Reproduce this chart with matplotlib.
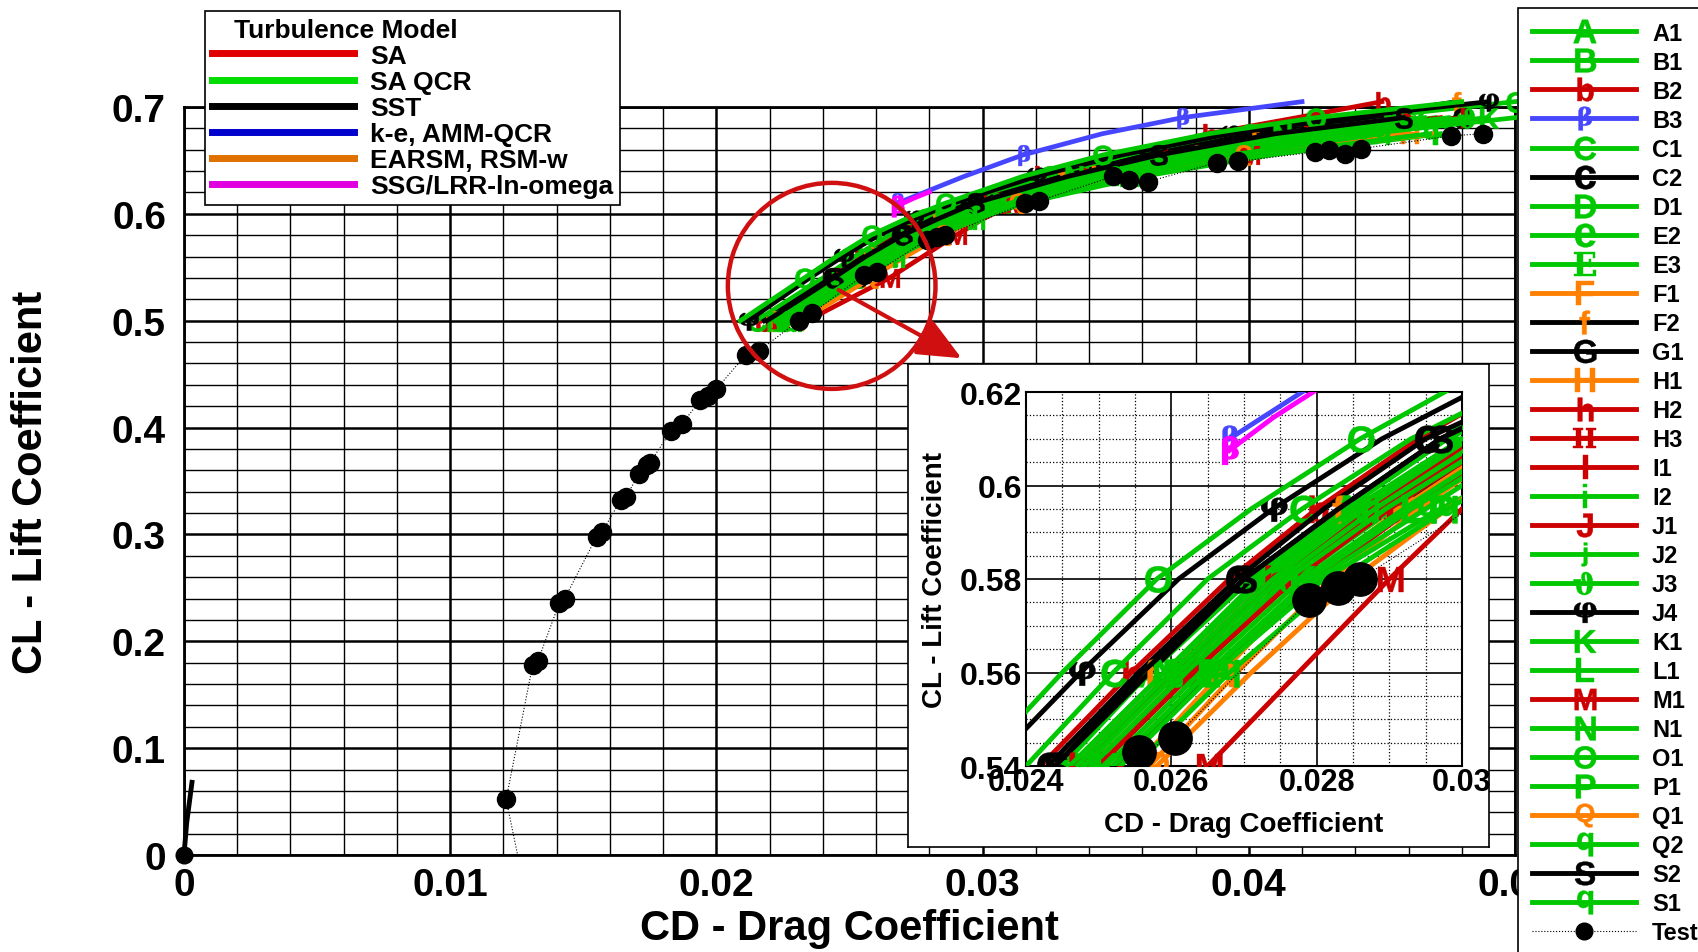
import numpy as np
import matplotlib
matplotlib.use("Agg")
import matplotlib.pyplot as plt
from matplotlib.lines import Line2D
from matplotlib.path import Path
from matplotlib.patches import Ellipse
from matplotlib.textpath import TextPath
from matplotlib.font_manager import FontProperties

plt.rcParams['font.family'] = ['Liberation Sans', 'DejaVu Sans']
plt.rcParams['font.weight'] = 'bold'
plt.rcParams['axes.labelweight'] = 'bold'

nan = np.nan

# CL stations shared by every CFD polar, CD at each one
cl_levels = [0.50, 0.54, 0.56, 0.58, 0.595, 0.61, 0.635, 0.655, 0.675, 0.69, 0.705]

run_names = ['A1', 'B1', 'B2', 'B3', 'C1', 'C2', 'D1', 'E2', 'E3', 'F1', 'F2',
             'G1', 'H1', 'H2', 'H3', 'I1', 'I2', 'J1', 'J2', 'J3', 'J4', 'K1',
             'L1', 'M1', 'N1', 'O1', 'P1', 'Q1', 'Q2', 'S2', 'S1']
run_symbols = ['A', 'B', 'b', 'β', 'C', 'c', 'D', 'e', 'E', 'F', 'f',
               'G', 'H', 'h', 'H', 'I', 'i', 'J', 'j', 'ϑ', 'φ', 'K',
               'L', 'M', 'N', 'O', 'P', 'Q', 'q', 'S', 'q']
serif_symbols = ['E3', 'H3', 'B3', 'J3', 'J4']
G, R, B, O, K = '#00c800', '#cc0000', '#4646ff', '#ff8000', '#000000'
run_colors = [G, G, R, B, G, K, G, G, G, O, K,
              K, O, R, R, R, G, R, G, G, K, G,
              G, R, G, G, G, O, G, K, G]
symbol_colors = [G, G, R, B, G, K, G, G, G, O, O,
                 K, O, R, R, R, G, R, G, G, K, G,
                 G, R, G, G, G, O, G, K, G]

run_cd = [
    [0.0221, 0.0245, 0.0257, 0.0271, 0.0284, 0.0298, 0.0332, 0.0366, 0.0410, 0.0455, nan],   # A1
    [0.0222, 0.0246, 0.0259, 0.0273, 0.02855, 0.0300, 0.0335, 0.0370, 0.0415, 0.0462, nan],  # B1
    [0.0217, 0.0242, 0.02545, 0.0268, 0.0280, 0.0294, 0.0322, 0.0350, 0.0385, 0.0418, 0.0450],  # B2
    [nan, nan, nan, nan, nan, 0.0268, 0.0293, 0.0315, 0.0345, 0.0375, 0.0420],  # B3
    [0.0215, 0.0240, 0.0252, 0.0265, 0.0278, 0.0293, 0.0325, 0.0357, 0.0400, 0.0445, 0.0500],  # C1
    [0.0218, 0.0243, 0.02555, 0.0269, 0.0281, 0.0295, 0.0330, 0.0362, 0.0405, 0.0450, nan],  # C2
    [0.0224, 0.0248, 0.02605, 0.0274, 0.0287, 0.0302, 0.0338, 0.0375, 0.0422, 0.0470, nan],  # D1
    [0.0225, 0.0249, 0.0262, 0.0276, 0.0289, 0.0304, 0.0340, 0.0378, 0.0428, 0.0480, nan],  # E2
    [0.0226, 0.0250, 0.0263, 0.0277, 0.02905, 0.0306, 0.0343, 0.0382, 0.0435, 0.0490, nan],  # E3
    [0.0230, 0.0257, 0.0269, 0.0282, 0.0294, 0.0308, 0.0350, 0.0392, 0.0460, nan, nan],  # F1
    [0.0220, 0.0244, 0.0257, 0.0270, 0.0283, 0.0297, 0.0330, 0.0362, 0.0402, 0.0440, 0.0478],  # F2
    [0.0228, 0.0252, 0.02655, 0.0280, 0.02915, 0.0305, 0.0342, 0.0380, 0.0432, 0.0480, nan],  # G1
    [0.0229, 0.0255, 0.0267, 0.0279, 0.02915, 0.0306, 0.0344, 0.0380, 0.0460, nan, nan],  # H1
    [0.0223, 0.0247, 0.0260, 0.0274, 0.0287, 0.0302, 0.0336, 0.0370, 0.0414, 0.0458, nan],  # H2
    [0.0224, 0.0249, 0.0262, 0.0276, 0.0289, 0.0304, 0.0340, 0.0376, 0.0424, 0.0472, nan],  # H3
    [0.0225, 0.0250, 0.0263, 0.0277, 0.0290, 0.0305, 0.0342, 0.0380, 0.0430, 0.0480, nan],  # I1
    [0.0223, 0.0247, 0.0260, 0.0274, 0.02865, 0.0301, 0.0337, 0.0372, 0.0418, 0.0466, nan],  # I2
    [0.0226, 0.0252, 0.0265, 0.0280, 0.0293, 0.0308, 0.0348, 0.0395, 0.0440, nan, nan],  # J1
    [0.0224, 0.0248, 0.0261, 0.0275, 0.0288, 0.0303, 0.0339, 0.0376, 0.0425, 0.0475, nan],  # J2
    [0.0225, 0.0249, 0.0262, 0.0276, 0.02895, 0.0305, 0.0341, 0.0380, 0.0430, 0.0482, nan],  # J3
    [0.0212, 0.0235, 0.02475, 0.0261, 0.0274, 0.0289, 0.0320, 0.0352, 0.0393, 0.0435, 0.0490],  # J4
    [0.0226, 0.0251, 0.0264, 0.0278, 0.0292, 0.0307, 0.0345, 0.0385, 0.0438, 0.0490, nan],  # K1
    [0.0227, 0.0252, 0.0265, 0.0279, 0.0293, 0.0309, 0.0348, 0.0390, 0.0445, 0.0500, nan],  # L1
    [0.0234, 0.0265, 0.02775, 0.0290, 0.0300, 0.0312, 0.0355, 0.0400, 0.0470, nan, nan],  # M1
    [0.0222, 0.0246, 0.0259, 0.0272, 0.0285, 0.0300, 0.0334, 0.0368, 0.0412, 0.0458, nan],  # N1
    [0.0209, 0.0233, 0.0245, 0.0258, 0.0271, 0.0286, 0.0315, 0.0345, 0.0385, 0.0425, 0.0480],  # O1
    [0.0228, 0.0253, 0.0266, 0.0281, 0.0297, 0.0316, 0.0360, 0.0408, 0.0472, nan, nan],  # P1
    [0.0232, 0.0258, 0.0271, 0.0285, 0.0298, 0.0313, 0.0356, 0.0398, 0.0470, nan, nan],  # Q1
    [0.0229, 0.0255, 0.0268, 0.0283, 0.0298, 0.0315, 0.0358, 0.0404, 0.0468, nan, nan],  # Q2
    [0.0219, 0.0244, 0.0256, 0.0270, 0.0283, 0.0297, 0.0332, 0.0366, 0.0410, 0.0458, nan],  # S2
    [0.0227, 0.0252, 0.0265, 0.0280, 0.0295, 0.0310, 0.0350, 0.0393, 0.0450, nan, nan],  # S1
]

# SSG/LRR-ln-omega run (only visible in the zoom)
ssg_cd = [0.0268, 0.0274, 0.0280]
ssg_cl = [0.6075, 0.6145, 0.6205]

# wind tunnel test
test_cd = [0.0127, 0.0121, 0.0131, 0.0133, 0.0141, 0.0143, 0.0155, 0.0157, 0.0164, 0.0166,
           0.0171, 0.0174, 0.0175, 0.0183, 0.0187, 0.0194, 0.0197, 0.0200, 0.0211, 0.0216,
           0.0231, 0.0236, 0.02555, 0.02605, 0.0279, 0.0283, 0.0286, 0.0316, 0.0321, 0.0349,
           0.0355, 0.0362, 0.0388, 0.0396, 0.0425, 0.0430, 0.0436, 0.0442, 0.0476, 0.0488]
test_cl = [-0.02, 0.052, 0.178, 0.182, 0.236, 0.240, 0.298, 0.302, 0.332, 0.335,
           0.357, 0.365, 0.367, 0.397, 0.403, 0.426, 0.430, 0.436, 0.468, 0.472,
           0.500, 0.507, 0.543, 0.546, 0.5755, 0.578, 0.580, 0.610, 0.612, 0.635,
           0.632, 0.630, 0.648, 0.649, 0.658, 0.660, 0.656, 0.661, 0.673, 0.675]

zero_cd = [0.0, 0.0001, 0.0003]
zero_cl = [0.0, 0.030, 0.068]

model_names = ['SA', 'SA QCR', 'SST', 'k-e, AMM-QCR', 'EARSM, RSM-w', 'SSG/LRR-ln-omega']
model_colors = ['#e00000', '#00dd00', '#000000', '#0000cc', '#e07000', '#e000e0']

xtick_main = ['0', '0.01', '0.02', '0.03', '0.04', '0.05']
ytick_main = ['0', '0.1', '0.2', '0.3', '0.4', '0.5', '0.6', '0.7']
xtick_zoom = ['0.024', '0.026', '0.028', '0.03']
ytick_zoom = ['0.54', '0.56', '0.58', '0.6', '0.62']

# red circle + arrow pointing at the zoom
circle_xy = (0.02433, 0.5326)
arrow_from = (0.0245, 0.530)
arrow_to = (0.0293, 0.4636)


def letter(ch, serif=False):
    fp = FontProperties(family='DejaVu Serif') if serif else \
        FontProperties(family='Liberation Sans', weight='bold')
    tp = TextPath((0, 0), ch, size=1, prop=fp)
    v = tp.vertices.copy()
    v -= (v.min(axis=0) + v.max(axis=0)) / 2
    return Path(v, tp.codes)


markers = [letter(s, n in serif_symbols) for s, n in zip(run_symbols, run_names)]

W, H = 1699, 953
fig = plt.figure(figsize=(W / 100, H / 100), dpi=100)
ax = fig.add_axes([184 / W, 1 - 856 / H, 1331 / W, 748 / H])

ax.set_xlim(0, 0.05)
ax.set_ylim(0, 0.7)
ax.set_xticks(np.linspace(0, 0.05, 6))
ax.set_xticklabels(xtick_main, fontsize=28)
ax.set_yticks(np.linspace(0, 0.7, 8))
ax.set_yticklabels(ytick_main, fontsize=28)
ax.set_xticks(np.arange(0, 0.05, 0.002), minor=True)
ax.set_yticks(np.arange(0, 0.7, 0.02), minor=True)
ax.grid(which='major', color='k', lw=1.8)
ax.grid(which='minor', color='k', lw=1.0)
ax.set_axisbelow(True)
ax.tick_params(which='both', length=0)
ax.tick_params(axis='x', pad=9)
ax.tick_params(axis='y', pad=13)
for sp in ax.spines.values():
    sp.set_linewidth(2)
ax.set_xlabel('CD - Drag Coefficient', fontsize=30)
ax.set_ylabel('CL - Lift Coefficient', fontsize=30)
ax.xaxis.set_label_coords(0.5, -0.071)
ax.yaxis.set_label_coords(-0.10, 0.5)

# zoomed view
box = fig.add_axes([908 / W, 1 - 848 / H, 581 / W, 483 / H])
box.set_xticks([])
box.set_yticks([])
box.set_zorder(5)
for sp in box.spines.values():
    sp.set_linewidth(1.2)
ins = fig.add_axes([1026 / W, 1 - 767 / H, 436 / W, 374 / H])
ins.set_zorder(6)
ins.set_xlim(0.024, 0.030)
ins.set_ylim(0.54, 0.62)
ins.set_xticks(np.linspace(0.024, 0.030, 4))
ins.set_xticklabels(xtick_zoom, fontsize=22)
ins.set_yticks(np.linspace(0.54, 0.62, 5))
ins.set_yticklabels(ytick_zoom, fontsize=23)
ins.set_xticks(np.arange(0.024, 0.030, 0.0005), minor=True)
ins.set_yticks(np.arange(0.54, 0.62, 0.005), minor=True)
ins.grid(which='major', color='k', lw=1.2)
ins.grid(which='minor', color='k', lw=0.9, ls=':')
ins.set_axisbelow(True)
ins.tick_params(which='both', length=0)
ins.tick_params(axis='x', pad=1)
ins.tick_params(axis='y', pad=3)
for sp in ins.spines.values():
    sp.set_linewidth(1.5)
ins.set_xlabel('CD - Drag Coefficient', fontsize=20)
ins.set_ylabel('CL - Lift Coefficient', fontsize=20)
ins.xaxis.set_label_coords(0.5, -0.12)
ins.yaxis.set_label_coords(-0.18, 0.5)

for a, lw, ms, clip in [(ax, 3.4, 15, False), (ins, 3.5, 20, True)]:
    for i in range(len(run_names)):
        a.plot(run_cd[i], cl_levels, color=run_colors[i], lw=lw, marker=markers[i], ms=ms,
               mfc=symbol_colors[i], mec=symbol_colors[i], mew=0.3,
               markevery=slice(i % 2, None, 2), clip_on=clip, zorder=3)
    a.plot(ssg_cd, ssg_cl, color='#ff00ff', lw=lw, marker=letter('β', True), ms=ms,
           markevery=[0], zorder=3.2)
    a.plot(test_cd, test_cl, color='k', lw=0.8, ls=':', marker='o',
           ms=13 if a is ax else 24, zorder=4)

ax.plot(zero_cd, zero_cl, color='k', lw=3.5, marker='o', ms=12, markevery=[0],
        clip_on=False, zorder=4)

ax.add_patch(Ellipse(circle_xy, 0.0078, 0.1928, fill=False, ec='#d01010', lw=3.2, zorder=6))
ax.annotate('', xy=arrow_to, xytext=arrow_from,
            arrowprops=dict(arrowstyle='-|>,head_length=0.9,head_width=0.4',
                            mutation_scale=30, color='#d01010', lw=3), zorder=6)

# right legend: one entry per run
run_handles = [Line2D([], [], color=run_colors[i], lw=3.5, marker=markers[i], ms=17,
                      mfc=symbol_colors[i], mec=symbol_colors[i], mew=0.3, label=run_names[i])
               for i in range(len(run_names))]
run_handles.append(Line2D([], [], color='k', lw=0.8, ls=':', marker='o', ms=12, label='Test'))
leg1 = fig.legend(handles=run_handles, loc='upper left', bbox_to_anchor=(1518 / W, 1 - 9 / H),
                  borderaxespad=0, fontsize=17, handlelength=4.4, handletextpad=0.7,
                  labelspacing=0.255, borderpad=0.58, fancybox=False, edgecolor='k',
                  framealpha=1, numpoints=1)
leg1.get_frame().set_linewidth(1.2)

# top legend: turbulence models
model_handles = [Line2D([], [], color=c, lw=5, label=n) for n, c in zip(model_names, model_colors)]
leg2 = fig.legend(handles=model_handles, title='   Turbulence Model', loc='upper left',
                  bbox_to_anchor=(205 / W, 1 - 12 / H), borderaxespad=0, fontsize=19,
                  title_fontproperties=FontProperties(family='Liberation Sans', weight='bold', size=19),
                  alignment='left', handlelength=5.4, handletextpad=0.6, labelspacing=0.08,
                  borderpad=0.25, fancybox=False, edgecolor='k', framealpha=1)
leg2.get_frame().set_linewidth(1.2)

fig.savefig('out.png', dpi=100)
